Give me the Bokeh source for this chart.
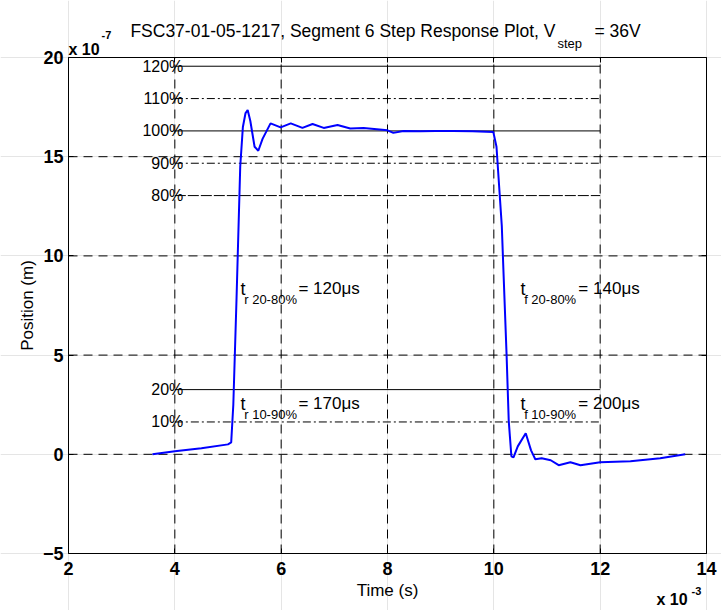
from bokeh.plotting import figure
from bokeh.models import Range1d, Label, FixedTicker, LinearAxis
from bokeh.embed import file_html
from bokeh.resources import INLINE

# time in units of 1e-3 s, position in units of 1e-7 m
time_ms = [3.58, 4.0, 4.5, 5.0, 5.06, 5.1, 5.16, 5.23, 5.28, 5.33, 5.37, 5.42, 5.5, 5.57,
           5.65, 5.8, 5.99, 6.18, 6.4, 6.59, 6.8, 7.06, 7.3, 7.55, 8.0, 8.11, 8.3, 8.62,
           8.9, 9.24, 9.6, 9.99, 10.05, 10.1, 10.15, 10.18, 10.24, 10.28, 10.33, 10.37,
           10.45, 10.6, 10.7, 10.78, 10.9, 11.07, 11.22, 11.44, 11.63, 12.0, 12.57, 13.13, 13.6]
position = [0.0, 0.15, 0.3, 0.5, 0.6, 2.5, 7.8, 14.5, 16.5, 17.2, 17.35, 16.8, 15.5, 15.3,
            15.9, 16.68, 16.48, 16.68, 16.45, 16.65, 16.45, 16.6, 16.42, 16.45, 16.33, 16.2,
            16.3, 16.28, 16.3, 16.3, 16.28, 16.25, 15.5, 13.5, 11.5, 9.3, 5.0, 1.7, -0.1,
            -0.15, 0.4, 1.06, 0.2, -0.25, -0.2, -0.3, -0.55, -0.4, -0.55, -0.4, -0.35, -0.2, 0.0]

final_value = 16.3
pct_levels = [120, 110, 100, 90, 80, 20, 10]
pct_dash = ["solid", "8 3 2 3", "solid", "8 3 2 3", "11 2", "solid", "8 3 2 3"]
x_ticks = [2, 4, 6, 8, 10, 12, 14]
y_ticks = [-5, 0, 5, 10, 15, 20]
x_lim = (2, 14)
y_lim = (-5, 20)

FONT = "Liberation Sans"
W, H = 721, 610
# axes box in page pixels
BOX_L, BOX_R, BOX_T, BOX_B = 68, 706, 57, 553
sx = (BOX_R - BOX_L) / (x_lim[1] - x_lim[0])
sy = (BOX_B - BOX_T) / (y_lim[1] - y_lim[0])
xr = Range1d(x_lim[0] - BOX_L / sx, x_lim[1] + (W - BOX_R) / sx)
yr = Range1d(y_lim[0] - (H - BOX_B) / sy, y_lim[1] + BOX_T / sy)

p = figure(width=W, height=H, output_backend="svg", toolbar_location=None,
           x_range=xr, y_range=yr, x_axis_location=None, y_axis_location=None,
           min_border=0, min_border_left=0, min_border_right=0,
           min_border_top=0, min_border_bottom=0)
p.title.text = ""
p.title.visible = False
p.background_fill_color = "white"
p.border_fill_color = "white"
p.outline_line_color = None

# dashed grid, limited to the axes box
gx = [t for t in x_ticks if x_lim[0] < t < x_lim[1]]
gy = [t for t in y_ticks if y_lim[0] < t < y_lim[1]]
p.segment(x0=gx, y0=[y_lim[0]] * len(gx), x1=gx, y1=[y_lim[1]] * len(gx),
          line_color="black", line_dash="9 6", line_width=1)
p.segment(x0=[x_lim[0]] * len(gy), y0=gy, x1=[x_lim[1]] * len(gy), y1=gy,
          line_color="black", line_dash="9 6", line_width=1)


def make_axis(loc, ticks, bounds, labels=True):
    ax = LinearAxis(fixed_location=loc, bounds=bounds, ticker=FixedTicker(ticks=ticks),
                    major_tick_in=5, major_tick_out=0, minor_tick_line_color=None,
                    axis_line_color="black", major_tick_line_color="black",
                    major_label_text_font=FONT, major_label_text_font_style="bold",
                    major_label_text_font_size="18px", major_label_text_color="black",
                    axis_label_text_font=FONT, axis_label_text_font_style="normal",
                    axis_label_text_font_size="17px", axis_label_text_color="black")
    if not labels:
        ax.major_label_text_color = None
    return ax

xax = make_axis(y_lim[0], x_ticks, x_lim)
xax.axis_label = "Time (s)"
xax.major_label_standoff = 8
xax.axis_label_standoff = 3
p.add_layout(xax, "below")

yax = make_axis(x_lim[0], y_ticks, y_lim)
yax.axis_label = "Position (m)"
yax.major_label_standoff = 5
yax.axis_label_standoff = 3
p.add_layout(yax, "left")

p.add_layout(make_axis(y_lim[1], x_ticks, x_lim, labels=False), "above")
p.add_layout(make_axis(x_lim[1], y_ticks, y_lim, labels=False), "right")

# percentage reference lines
for pct, dash in zip(pct_levels, pct_dash):
    lvl = pct / 100 * final_value
    p.line([4.0, 12.0], [lvl, lvl], line_color="black", line_width=1, line_dash=dash)
    p.add_layout(Label(x=4.16, y=lvl, text=f"{pct}%", text_align="right",
                       text_baseline="middle", text_font=FONT, text_font_size="16px",
                       text_color="black"))

p.line(time_ms, position, line_color="#0000ff", line_width=2)


def lab(x, y, t, size, style="normal", align="left"):
    p.add_layout(Label(x=x, y=y, text=t, text_align=align, text_baseline="middle",
                       text_font=FONT, text_font_size=size, text_font_style=style,
                       text_color="black"))


def X(px):
    return x_lim[0] + (px - BOX_L) / sx


def Y(py):
    return y_lim[0] + (BOX_B - py) / sy

# annotations
for (tx, row_y, sub, val) in [(5.235, 8.32, "r 20-80%", "= 120\u03bcs"),
                              (5.235, 2.52, "r 10-90%", "= 170\u03bcs"),
                              (10.50, 8.32, "f 20-80%", "= 140\u03bcs"),
                              (10.50, 2.52, "f 10-90%", "= 200\u03bcs")]:
    lab(tx, row_y, "t", "18px")
    lab(tx + 0.07, row_y - 0.5, sub, "13px")
    lab(tx + 1.09, row_y + 0.05, val, "17px")

# title
lab(X(555), Y(30), "FSC37-01-05-1217, Segment 6 Step Response Plot, V", "17.5px", align="right")
lab(X(557), Y(43), "step", "13px")
lab(X(594), Y(30), "= 36V", "17.5px")

# exponent labels
lab(X(68), Y(49), "x 10", "16px", "bold")
lab(X(101), Y(34), "-7", "11px", "bold")
lab(X(656), Y(599), "x 10", "16px", "bold")
lab(X(691), Y(590), "-3", "11px", "bold")

open("out.html", "w").write(file_html(p, INLINE))
